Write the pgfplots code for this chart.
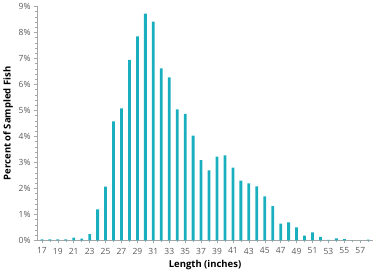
\documentclass[border=0pt]{standalone}
\usepackage{pgfplots}
\pgfplotsset{compat=1.18}
\usepackage{fontspec}
\setmainfont{Open Sans}
\definecolor{bar}{HTML}{1AAFBF}
\definecolor{tickgray}{HTML}{595959}
\definecolor{axgray}{HTML}{A6A6A6}
\begin{document}
\begin{tikzpicture}
\begin{axis}[
  scale only axis, width=336pt, height=234pt,
  xmin=16.4, xmax=58.6, ymin=0, ymax=9,
  axis x line*=bottom, axis y line*=left,
  axis line style={axgray, line width=0.6pt},
  xtick={17,19,...,57}, minor xtick={18,20,...,58},
  ytick={0,1,...,9}, minor y tick num=4,
  tick style={axgray, line width=0.5pt},
  tick align=outside, major tick length=3pt, minor tick length=2pt,
  /pgf/number format/assume math mode=true,
  yticklabel={\pgfmathprintnumber{\tick}\%},
  ticklabel style={font=\fontsize{8.5}{10}\selectfont, text=tickgray},
  xticklabel style={yshift=-1pt},
  xlabel={Length (inches)}, ylabel={Percent of Sampled Fish},
  label style={font=\fontsize{9.5}{11}\selectfont\bfseries},
  xlabel style={yshift=1pt}, ylabel style={yshift=-1pt},
  ybar, bar width=2.8pt, bar shift=0pt,
]
\addplot[fill=bar, draw=none] coordinates {
(17,0.04) (18,0.04) (19,0.04) (20,0.04) (21,0.11) (22,0.07) (23,0.24) (24,1.19)
(25,2.07) (26,4.58) (27,5.08) (28,6.94) (29,7.85) (30,8.72) (31,8.42) (32,6.62)
(33,6.27) (34,5.04) (35,4.87) (36,4.03) (37,3.09) (38,2.69) (39,3.22) (40,3.27)
(41,2.80) (42,2.30) (43,2.19) (44,2.08) (45,1.69) (46,1.32) (47,0.64) (48,0.69)
(49,0.50) (50,0.18) (51,0.31) (52,0.13) (53,0.02) (54,0.08) (55,0.05) (56,0)
(57,0) (58,0.03)
};
\end{axis}
\path (current axis.east) ++(7pt,0);
\end{tikzpicture}
\end{document}
